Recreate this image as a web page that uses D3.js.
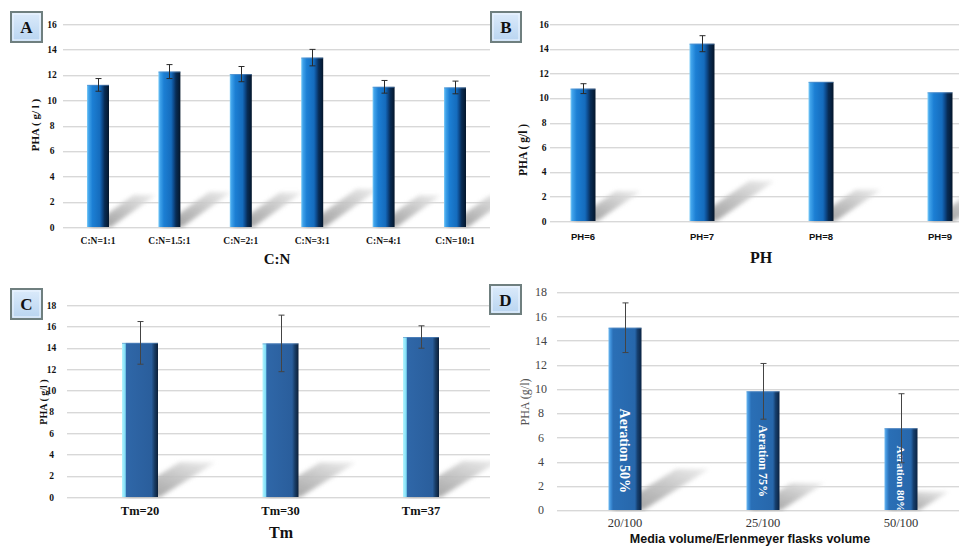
<!DOCTYPE html>
<html><head><meta charset="utf-8">
<script src="https://cdn.jsdelivr.net/npm/d3@7"></script>
<style>body{margin:0;background:#fff}svg{display:block}</style>
</head><body>
<svg id="chart" width="959" height="546"></svg>
<script>
// ---------- DATA ----------
const cnCategories = ["C:N=1:1","C:N=1.5:1","C:N=2:1","C:N=3:1","C:N=4:1","C:N=10:1"];
const cnValues = [11.2, 12.25, 12.05, 13.35, 11.05, 11.0];
const cnErrors = [0.5, 0.55, 0.6, 0.65, 0.5, 0.5];

const phCategories = ["PH=6","PH=7","PH=8","PH=9"];
const phValues = [10.75, 14.4, 11.3, 10.45];
const phErrors = [0.4, 0.65, 0, 0];

const tmCategories = ["Tm=20","Tm=30","Tm=37"];
const tmValues = [14.45, 14.4, 15.0];
const tmErrors = [2.0, 2.65, 1.05];

const mvCategories = ["20/100","25/100","50/100"];
const mvValues = [15.05, 9.8, 6.75];
const mvErrors = [2.05, 2.3, 2.85];
const mvBarLabels = ["Aeration 50%","Aeration 75%","Aeration 80%"];

const ticks16 = [0,2,4,6,8,10,12,14,16];
const ticks18 = [0,2,4,6,8,10,12,14,16,18];

// ---------- SETUP ----------
const SERIF = "'Liberation Serif','Times New Roman',serif";
const SANS = "'Liberation Sans',Arial,sans-serif";
const svg = d3.select("#chart");
const defs = svg.append("defs");

function addBarGradient(id, stops) {
  const g = defs.append("linearGradient").attr("id", id)
    .attr("x1", "0").attr("y1", "0").attr("x2", "1").attr("y2", "0");
  stops.forEach(s => g.append("stop").attr("offset", s[0]).attr("stop-color", s[1]));
}
addBarGradient("gradAB", [[0,"#7fcdf8"],[0.08,"#3fa2ea"],[0.25,"#1c7fd4"],[0.58,"#156cbd"],[0.68,"#0e4e92"],[0.8,"#082c55"],[1,"#04162b"]]);
addBarGradient("gradC", [[0,"#b5f6ff"],[0.09,"#7ddcf6"],[0.12,"#2f67a8"],[0.82,"#2a5e9c"],[0.9,"#193d66"],[1,"#0c1f38"]]);
addBarGradient("gradD", [[0,"#6cb8f0"],[0.07,"#3d8ed8"],[0.14,"#2a6fb6"],[0.8,"#2767ab"],[0.88,"#163f6e"],[1,"#0a2241"]]);

const sg = defs.append("linearGradient").attr("id", "shadowGrad")
  .attr("x1", "0").attr("y1", "1").attr("x2", "1").attr("y2", "0");
sg.append("stop").attr("offset", 0).attr("stop-color", "#8f8f8f");
sg.append("stop").attr("offset", 0.6).attr("stop-color", "#c4c4c4");
sg.append("stop").attr("offset", 1).attr("stop-color", "#ececec");
defs.append("filter").attr("id", "blur").attr("x", "-20%").attr("y", "-20%").attr("width", "140%").attr("height", "140%")
  .append("feGaussianBlur").attr("stdDeviation", 2);

const bg = defs.append("linearGradient").attr("id", "boxGrad")
  .attr("x1", "0").attr("y1", "0").attr("x2", "0").attr("y2", "1");
bg.append("stop").attr("offset", 0).attr("stop-color", "#dcebfb");
bg.append("stop").attr("offset", 1).attr("stop-color", "#b8d4f0");

const panels = [
  { id:"A", cats:cnCategories, vals:cnValues, errs:cnErrors, yMax:16, ticks:ticks16,
    xRange:[62.3,490.7], yRange:[227,24], grid:[63,490], barW:22, grad:"gradAB", shadowK:1.4,
    tickX:52, tickFont:"bold 9.5px "+SERIF, tickFill:"#111",
    catY:244, catFont:"bold 9.5px "+SERIF, catFill:"#111",
    xTitle:"C:N", xTitleX:277, xTitleY:264, xTitleFont:"bold 15px "+SERIF,
    yTitle:"PHA ( g/ l )", yTitleX:35, yTitleY:125, yTitleFont:"bold 11px "+SERIF, yTitleFill:"#111",
    box:[10,11,33,32], errColor:"#2a2a2a" },
  { id:"B", cats:phCategories, vals:phValues, errs:phErrors, yMax:16, ticks:ticks16,
    xRange:[523.5,999.5], yRange:[221,24], grid:[550,959], barW:25, grad:"gradAB", shadowK:1.45,
    tickX:544, tickFont:"bold 9.5px "+SERIF, tickFill:"#111",
    catY:240, catFont:"bold 9.5px "+SANS, catFill:"#111",
    xTitle:"PH", xTitleX:761, xTitleY:263, xTitleFont:"bold 16px "+SERIF,
    yTitle:"PHA ( g/l )", yTitleX:523, yTitleY:150, yTitleFont:"bold 11.5px "+SERIF, yTitleFill:"#111",
    box:[490,11,32,32], errColor:"#2a2a2a" },
  { id:"C", cats:tmCategories, vals:tmValues, errs:tmErrors, yMax:18, ticks:ticks18,
    xRange:[69.75,491.25], yRange:[497,305], grid:[67,490], barW:36, grad:"gradC", shadowK:1.6,
    tickX:51.5, tickFont:"bold 9.5px "+SERIF, tickFill:"#111",
    catY:515, catFont:"bold 12.5px "+SERIF, catFill:"#111",
    xTitle:"Tm", xTitleX:281, xTitleY:538, xTitleFont:"bold 16px "+SERIF,
    yTitle:"PHA ( g/l )", yTitleX:43, yTitleY:402, yTitleFont:"bold 10px "+SERIF, yTitleFill:"#111",
    box:[10,288,33,32], errColor:"#444" },
  { id:"D", cats:mvCategories, vals:mvValues, errs:mvErrors, yMax:18, ticks:ticks18,
    xRange:[556,970], yRange:[510,292], grid:[557,959], barW:33, grad:"gradD", shadowK:1.6,
    tickX:541, tickFont:"12px "+SERIF, tickFill:"#444",
    catY:527, catFont:"12.5px "+SERIF, catFill:"#333",
    xTitle:"Media volume/Erlenmeyer flasks volume", xTitleX:750, xTitleY:543, xTitleFont:"bold 12.5px "+SANS,
    yTitle:"PHA (g/l)", yTitleX:525, yTitleY:402, yTitleFont:"12px "+SERIF, yTitleFill:"#555",
    box:[489,284,33,31], errColor:"#444",
    barLabels:mvBarLabels, barLabelSizes:[14,12,11], barLabelEnd:[17,13,-2] }
];

function applyFont(sel, font) {
  const m = font.match(/^(bold )?([\d.]+)px (.*)$/);
  sel.style("font-weight", m[1] ? "bold" : "normal")
     .style("font-size", m[2] + "px")
     .style("font-family", m[3]);
}

panels.forEach(p => {
  const g = svg.append("g");
  const x = d3.scaleBand().domain(p.cats).range(p.xRange).padding(0);
  const y = d3.scaleLinear().domain([0, p.yMax]).range(p.yRange);

  const clipId = "clip" + p.id;
  defs.append("clipPath").attr("id", clipId).append("rect")
    .attr("x", p.grid[0]).attr("y", y(p.yMax) - 10)
    .attr("width", p.grid[1] - p.grid[0]).attr("height", y(0) - y(p.yMax) + 12);

  // gridlines
  const gl = g.append("g");
  gl.selectAll("line.g2").data(p.ticks).join("line")
    .attr("x1", p.grid[0]).attr("x2", p.grid[1])
    .attr("y1", d => Math.round(y(d)) + 1.5).attr("y2", d => Math.round(y(d)) + 1.5)
    .attr("stroke", "#f0f0f0").attr("stroke-width", 1);
  gl.selectAll("line.g1").data(p.ticks).join("line")
    .attr("x1", p.grid[0]).attr("x2", p.grid[1])
    .attr("y1", d => Math.round(y(d)) + 0.5).attr("y2", d => Math.round(y(d)) + 0.5)
    .attr("stroke", "#d8d8d8").attr("stroke-width", 1);

  // tick labels via axis
  const axis = d3.axisLeft(y).tickValues(p.ticks).tickSize(0).tickPadding(0);
  const ag = g.append("g").attr("transform", `translate(${p.tickX},0)`).call(axis);
  ag.select(".domain").remove();
  ag.selectAll("text").attr("text-anchor", "middle").attr("fill", p.tickFill).attr("x", 0)
    .each(function(){ applyFont(d3.select(this), p.tickFont); });

  const cx = d => x(d) + x.bandwidth() / 2;

  // shadows
  const sh = g.append("g").attr("clip-path", `url(#${clipId})`);
  p.cats.forEach((c, i) => {
    const h = y(0) - y(p.vals[i]);
    const dy = 0.225 * h, dx = dy * p.shadowK;
    const xl = cx(c) - p.barW / 2, xr = cx(c) + p.barW / 2, y0 = y(0);
    const pts = [[xl + 2, y0], [xr + 2, y0], [xr + 2 + dx, y0 - dy], [xl + 2 + dx, y0 - dy]];
    sh.append("polygon").attr("points", pts.map(q => q.join(",")).join(" "))
      .attr("fill", "url(#shadowGrad)").attr("opacity", 0.9).attr("filter", "url(#blur)");
  });

  // bars
  const bars = g.append("g");
  bars.selectAll("rect").data(p.cats).join("rect")
    .attr("x", d => cx(d) - p.barW / 2).attr("width", p.barW)
    .attr("y", (d, i) => y(p.vals[i])).attr("height", (d, i) => y(0) - y(p.vals[i]))
    .attr("fill", `url(#${p.grad})`);
  bars.selectAll("line.top").data(p.cats).join("line")
    .attr("x1", d => cx(d) - p.barW / 2).attr("x2", d => cx(d) + p.barW / 2)
    .attr("y1", (d, i) => y(p.vals[i]) + 0.5).attr("y2", (d, i) => y(p.vals[i]) + 0.5)
    .attr("stroke", "#5d8fc6").attr("stroke-opacity", 0.6).attr("stroke-width", 1);

  // bar labels (panel D)
  if (p.barLabels) {
    p.cats.forEach((c, i) => {
      const bid = "barclip" + p.id + i;
      defs.append("clipPath").attr("id", bid).append("rect")
        .attr("x", cx(c) - p.barW / 2).attr("y", y(p.vals[i]))
        .attr("width", p.barW).attr("height", y(0) - y(p.vals[i]));
      g.append("g").attr("clip-path", `url(#${bid})`)
        .append("text")
        .attr("transform", `translate(${cx(c)},${y(0) - p.barLabelEnd[i]}) rotate(90)`)
        .attr("text-anchor", "end").attr("dy", "0.35em")
        .attr("fill", "#fff")
        .style("font-family", SERIF).style("font-weight", "bold")
        .style("font-size", p.barLabelSizes[i] + "px")
        .text(p.barLabels[i]);
    });
  }

  // error bars
  const eb = g.append("g").attr("stroke", p.errColor).attr("stroke-width", 1);
  p.cats.forEach((c, i) => {
    if (!p.errs[i]) return;
    const xc = Math.round(cx(c)) + 0.5;
    const yt = y(p.vals[i] + p.errs[i]), yb = y(p.vals[i] - p.errs[i]);
    eb.append("line").attr("x1", xc).attr("x2", xc).attr("y1", yt).attr("y2", yb);
    eb.append("line").attr("x1", xc - 3).attr("x2", xc + 3).attr("y1", yt).attr("y2", yt);
    eb.append("line").attr("x1", xc - 3).attr("x2", xc + 3).attr("y1", yb).attr("y2", yb);
  });

  // category labels
  g.append("g").selectAll("text").data(p.cats).join("text")
    .attr("x", cx).attr("y", p.catY).attr("text-anchor", "middle")
    .attr("fill", p.catFill).text(d => d)
    .each(function(){ applyFont(d3.select(this), p.catFont); });

  // axis titles
  const xt = g.append("text").attr("x", p.xTitleX).attr("y", p.xTitleY)
    .attr("text-anchor", "middle").attr("fill", "#111").text(p.xTitle);
  applyFont(xt, p.xTitleFont);
  const yt = g.append("text")
    .attr("transform", `translate(${p.yTitleX},${p.yTitleY}) rotate(-90)`)
    .attr("text-anchor", "middle").attr("dy", "0.35em").attr("fill", p.yTitleFill).text(p.yTitle);
  applyFont(yt, p.yTitleFont);

  // letter box
  const [bx, by, bw, bh] = p.box;
  g.append("rect").attr("x", bx + 1).attr("y", by + 1).attr("width", bw - 2).attr("height", bh - 2)
    .attr("fill", "url(#boxGrad)").attr("stroke", "#6f7f7f").attr("stroke-width", 2);
  g.append("rect").attr("x", bx + 3).attr("y", by + 3).attr("width", bw - 6).attr("height", bh - 6)
    .attr("fill", "none").attr("stroke", "#eef6ff").attr("stroke-width", 1);
  g.append("text").attr("x", bx + bw / 2).attr("y", by + bh / 2).attr("dy", "0.36em")
    .attr("text-anchor", "middle").attr("fill", "#111")
    .style("font-family", SERIF).style("font-weight", "bold").style("font-size", "17px")
    .text(p.id);
});
</script>
</body></html>
